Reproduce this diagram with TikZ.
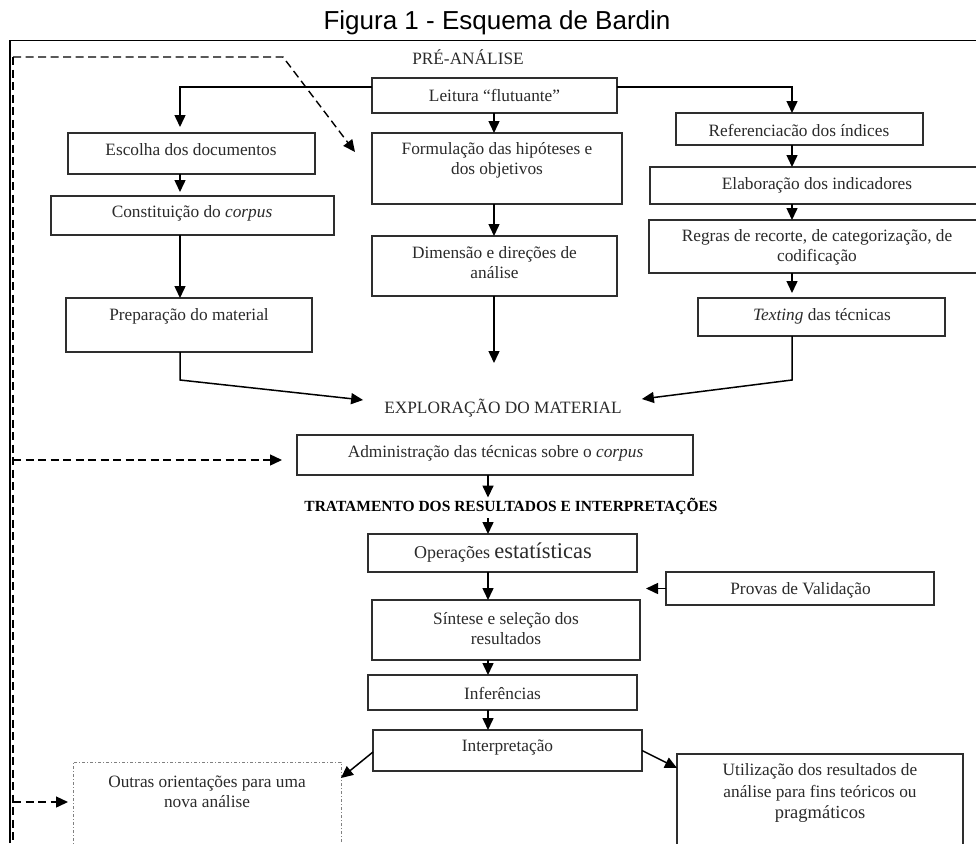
\documentclass[tikz,border=0pt]{standalone}
\usepackage{fontspec}
\setmainfont{Liberation Serif}
\newfontfamily\titlefont{Liberation Sans}
\usetikzlibrary{arrows.meta,calc}
\definecolor{ink}{HTML}{2E2E2E}
\definecolor{txt}{HTML}{2A2A2A}
\newcommand\mkbox[6][]{\node[box,#1,minimum width={(#5-#3)*1pt},minimum height={(#6-#4)*1pt}] (#2) at ({(#3+#5)/2},{(#4+#6)/2}) {};}
\begin{document}
\begin{tikzpicture}[x=1pt,y=-1pt,
  box/.style={draw=ink,line width=1.8pt,inner sep=0pt,outer sep=0pt},
  lbl/.style={text=txt,font=\fontsize{17.3}{20}\selectfont,align=center,inner sep=0pt},
  arr/.style={draw=black,line width=1.5pt,-{Triangle[length=12pt,width=11pt]}},
  dsh/.style={draw=black,line width=1.4pt,dash pattern=on 8pt off 4.5pt},
  dsharr/.style={dsh,-{Triangle[length=12pt,width=11pt]}},
]
\useasboundingbox (0,0) rectangle (976,843);
\fill[white] (0,0) rectangle (976,843);
\clip (0,0) rectangle (976,843);

% column coordinates
\coordinate (colA) at (180,0);
\coordinate (colB) at (494,0);
\coordinate (colC) at (792,0);
\coordinate (colD) at (488,0);
\coordinate (leftline) at (13,0);

% title and frame
\node[font=\titlefont\fontsize{26}{29}\selectfont,inner sep=0pt] (title) at (497,23) {Figura 1 - Esquema de Bardin};
\draw[line width=1.5pt] (10,843) -- (10,40.5) -- (976,40.5);
\draw[dsh] (13,57) -- (13,843);

% boxes
\mkbox{lei}{372}{78}{617}{113}
\mkbox{esc}{68}{133}{315}{174}
\mkbox{form}{372}{133}{622}{204}
\mkbox{cons}{51}{196}{334}{235}
\mkbox{prep}{66}{298}{312}{352}
\mkbox{dim}{372}{236}{617}{296}
\mkbox{ref}{676}{113}{923}{145}
\mkbox{elab}{650}{167}{990}{204}
\mkbox{regr}{649}{220}{990}{273}
\mkbox{test}{698}{298}{945}{336}
\mkbox{adm}{297}{435}{693}{475}
\mkbox{oper}{368}{534}{637}{572}
\mkbox{prov}{666}{572}{934}{605}
\mkbox{sint}{372}{600}{640}{660}
\mkbox{infe}{368}{675}{637}{710}
\mkbox{intp}{373}{730}{642}{771}
\mkbox[draw=gray,line width=1pt,dash pattern=on 3pt off 2pt on 1pt off 2pt]{outr}{73}{762}{341}{870}
\mkbox{util}{677}{754}{963}{870}

% texts
\node[lbl] (preT) at (468,57) {PRÉ-ANÁLISE};
\node[lbl] (leiT) at (lei) {Leitura “flutuante”};
\node[lbl] (escT) at (191,150) {Escolha dos documentos};
\node[lbl] (formT) at (497,160) {Formulação das hipóteses e\\dos objetivos};
\node[lbl] (consT) at (192,213) {Constituição do \textit{corpus}};
\node[lbl] (prepT) at (189,316) {Preparação do material};
\node[lbl] (dimT) at (494.5,263) {Dimensão e direções de\\análise};
\node[lbl] (refT) at (799,130) {Referenciacão dos índices};
\node[lbl] (elabT) at (817,185) {Elaboração dos indicadores};
\node[lbl] (regrT) at (817,247) {Regras de recorte, de categorização, de\\codificação};
\node[lbl] (testT) at (822,316) {\textit{Texting} das técnicas};
\node[lbl] (explT) at (503,408) {EXPLORAÇÃO DO MATERIAL};
\node[lbl] (admT) at (495.5,453) {Administração das técnicas sobre o \textit{corpus}};
\node[lbl,font=\bfseries\fontsize{15.5}{18}\selectfont,text=black] (tratT) at (511,506) {TRATAMENTO DOS RESULTADOS E INTERPRETAÇÕES};
\node[lbl] (operT) at (503,553) {{\fontsize{18}{20}\selectfont Operações} {\fontsize{22.5}{24}\selectfont estatísticas}};
\node[lbl] (provT) at (800.5,590) {Provas de Validação};
\node[lbl] (sintT) at (506,628.5) {Síntese e seleção dos\\resultados};
\node[lbl] (infeT) at (502.5,693) {Inferências};
\node[lbl] (intpT) at (507.5,748) {Interpretação};
\node[lbl] (outrT) at (207,791.5) {Outras orientações para uma\\nova análise};
\node[lbl,font=\fontsize{17.3}{21.5}\selectfont] (utilT) at (820,793) {Utilização dos resultados de\\análise para fins teóricos ou\\{\fontsize{18.5}{21.5}\selectfont pragmáticos}};

% connectors
\draw[arr,shorten >=6pt] ([yshift=8.5pt]lei.west) -| (esc.north -| colA);
\draw[arr] ([yshift=8.5pt]lei.east) -| (ref.north -| colC);
\draw[arr] (lei.south -| colB) -- (form.north -| colB);
\draw[arr,shorten >=4pt] (esc.south -| colA) -- (cons.north -| colA);
\draw[arr] (cons.south -| colA) -- (prep.north -| colA);
\draw[arr] (prep.south -| colA) -- ++(0,28) -- ([xshift=-21pt,yshift=8pt]explT.west);
\draw[arr] (form.south -| colB) -- (dim.north -| colB);
\coordinate (dimEnd) at (494,363);
\draw[arr] (dim.south -| colB) -- (dimEnd);
\draw[arr] (ref.south -| colC) -- (elab.north -| colC);
\draw[arr] (elab.south -| colC) -- (regr.north -| colC);
\draw[arr,shorten >=5pt] (regr.south -| colC) -- (test.north -| colC);
\draw[arr] (test.south -| colC) -- ++(0,44) -- ([xshift=20pt,yshift=9pt]explT.east);
\draw[arr] (adm.south -| colD) -- (tratT.north -| colD);
\draw[arr,shorten <=4pt] (tratT.south -| colD) -- (oper.north -| colD);
\draw[arr] (oper.south -| colD) -- (sint.north -| colD);
\draw[arr] (prov.west) -- ([xshift=-20pt]prov.west);
\draw[arr] (sint.south -| colD) -- (infe.north -| colD);
\draw[arr] (infe.south -| colD) -- (intp.north -| colD);
\draw[arr] ([yshift=-1.5pt]intp.west) -- ([yshift=-16pt]outr.north east);
\draw[arr] (intp.east) -- ([yshift=-14pt]util.north west);

% dashed feedback lines
\coordinate (dtop) at (283,57);
\coordinate (dtip) at (355,152);
\draw[dsharr] (leftline |- dtop) -- (dtop) -- (dtip);
\draw[dsharr] ([yshift=-5pt]adm.west -| leftline) -- ([xshift=-15pt,yshift=-5pt]adm.west);
\coordinate (o1) at ([yshift=-40pt]outr.north west);
\draw[dsharr] (o1 -| leftline) -- ([xshift=-5pt]o1);
\end{tikzpicture}
\end{document}
